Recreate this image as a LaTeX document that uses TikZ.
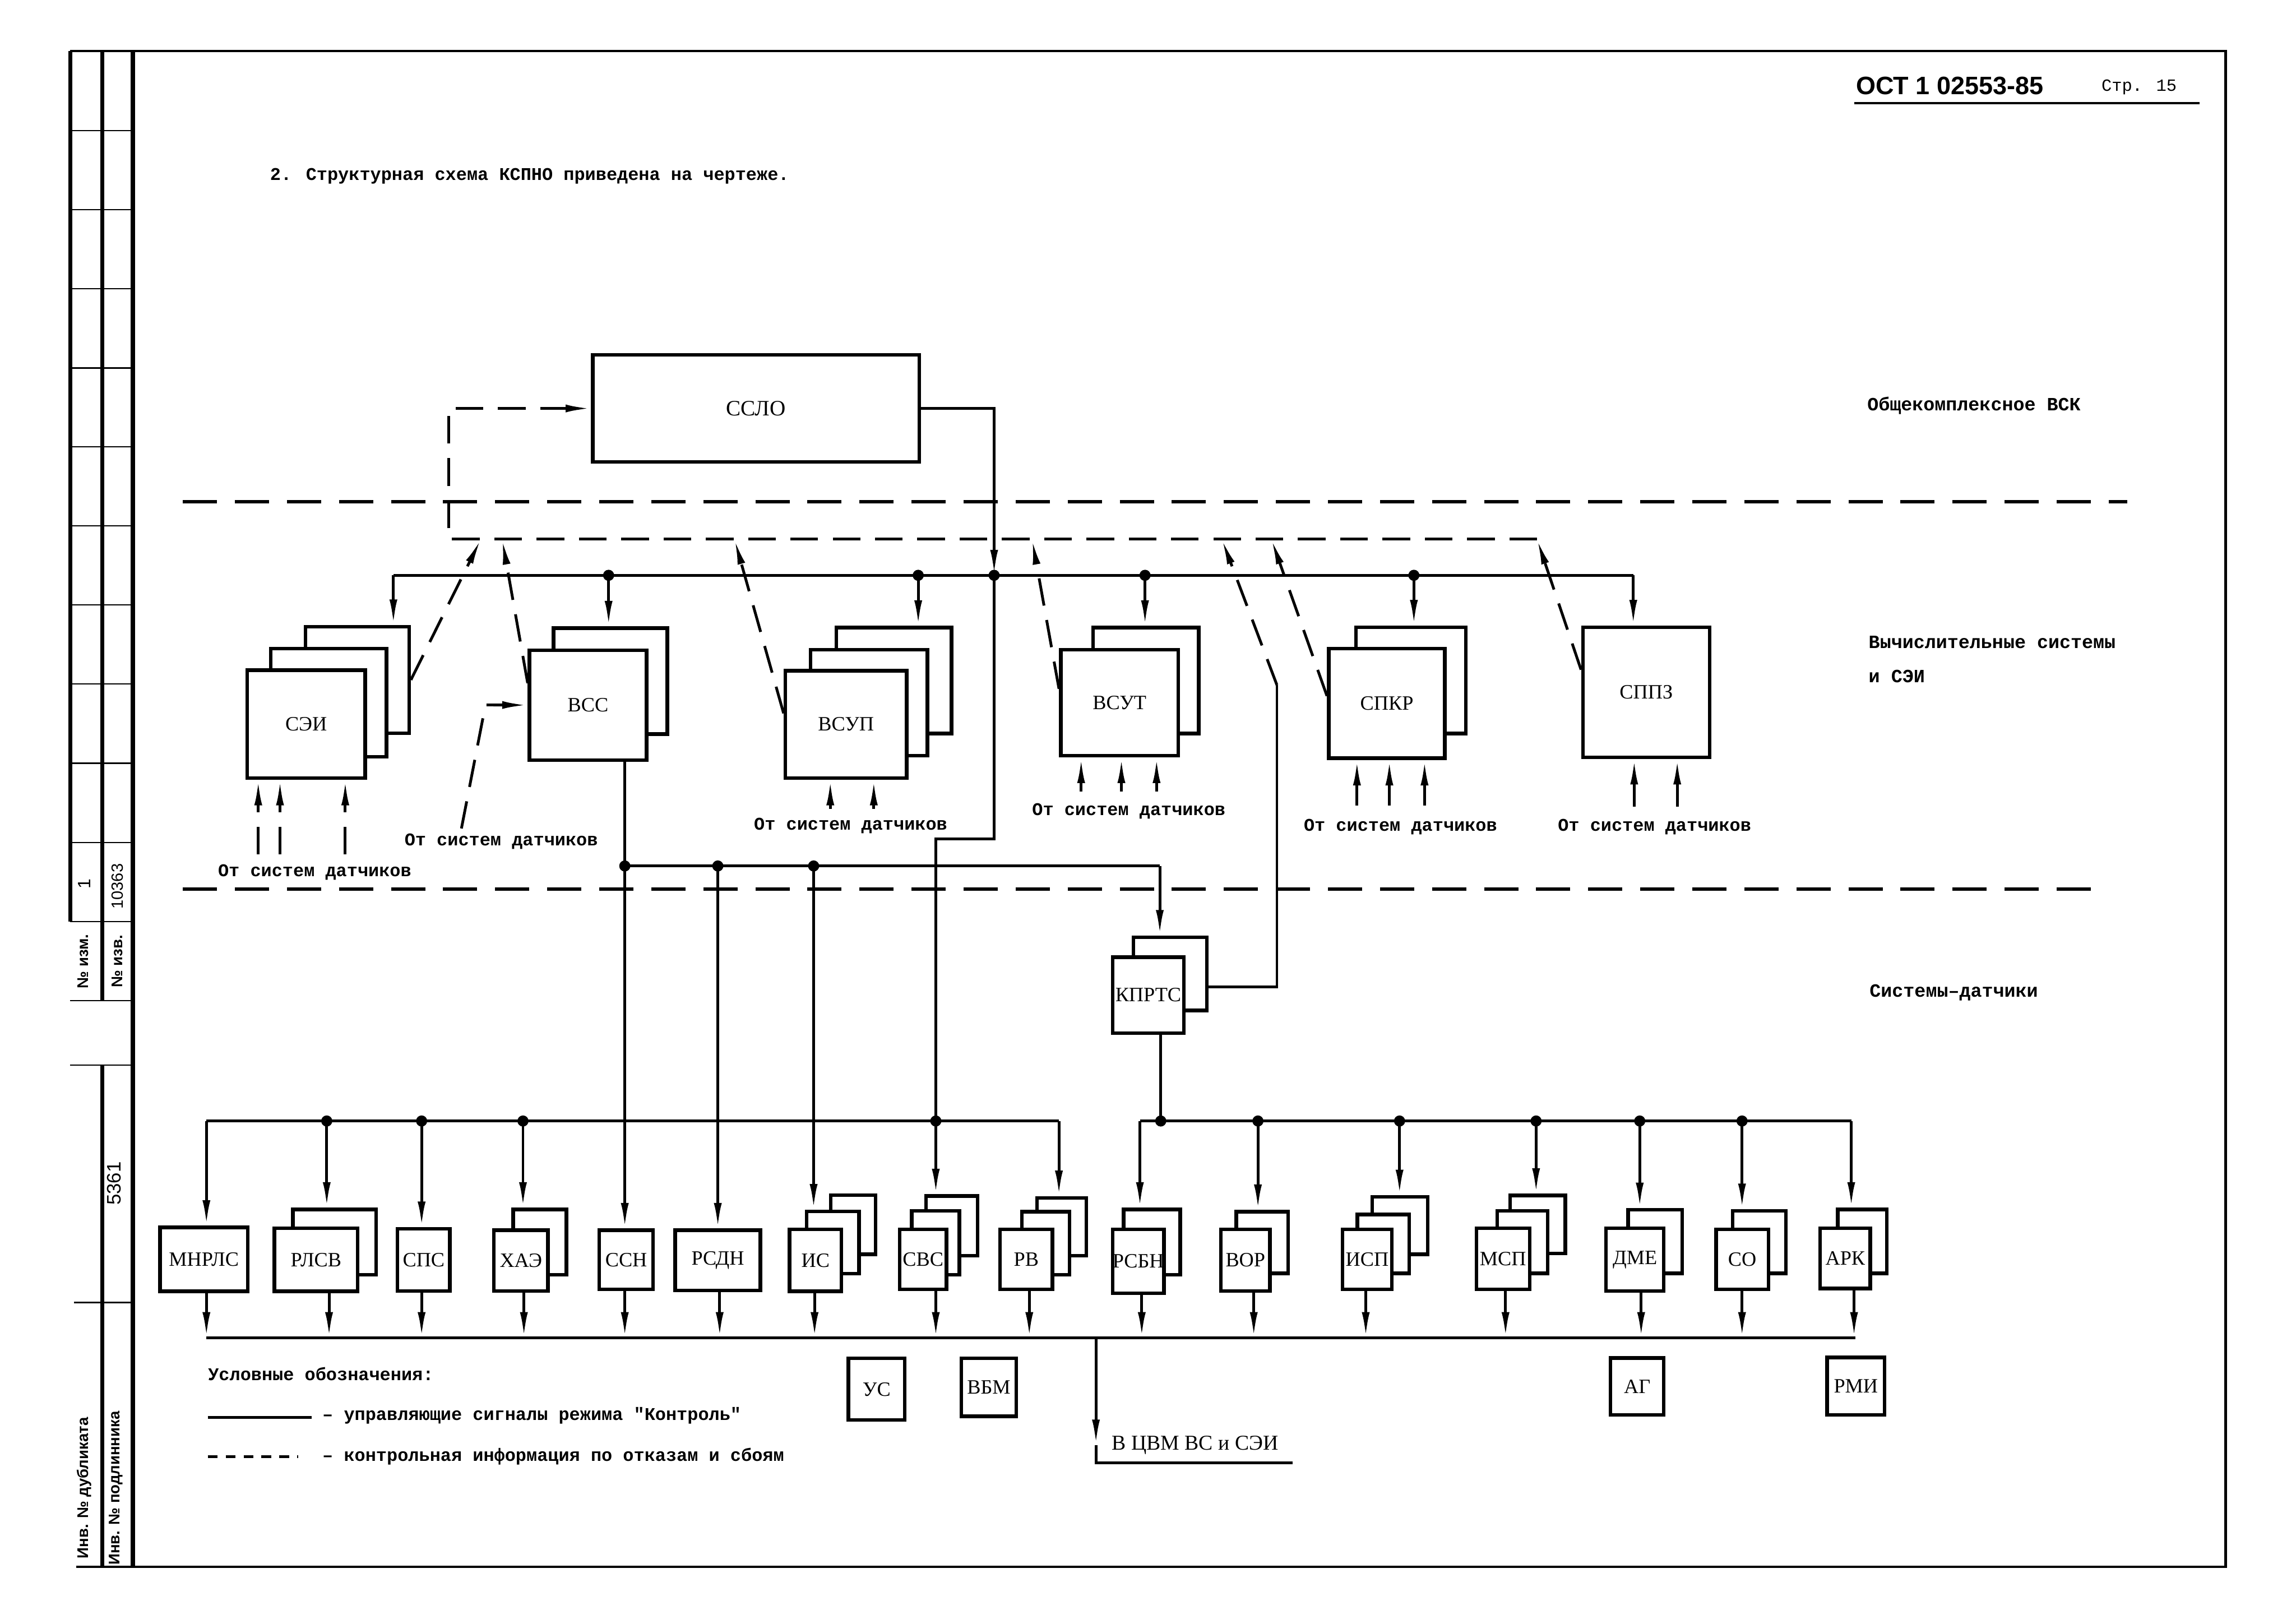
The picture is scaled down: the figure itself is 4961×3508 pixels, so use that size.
\documentclass[tikz,border=0pt]{standalone}
\usepackage{fontspec}
\setmainfont{Liberation Serif}
\newfontfamily\tw{Liberation Mono}
\newfontfamily\hd{Liberation Sans}
\usetikzlibrary{arrows.meta, positioning}

% box given by its corners (in scan pixels)
\newcommand{\sysbox}[6]{%
  \pgfmathsetmacro\sbw{(#4-#2)/10}%
  \pgfmathsetmacro\sbh{(#5-#3)/10}%
  \node[sys, minimum width=\sbw mm, minimum height=\sbh mm] (#1) at ({(#2+#4)/2},{(#3+#5)/2}) {#6};}

\begin{document}
\begin{tikzpicture}[x=0.1mm, y=-0.1mm,
    sys/.style={rectangle, draw=black, line width=2.2pt, fill=white, inner sep=0pt, font=\fontsize{12.5}{14}\selectfont},
    ctl/.style={line width=1.7pt},
    info/.style={line width=1.7pt, dash pattern=on 17pt off 9pt},
    divider/.style={line width=1.8pt, dash pattern=on 21pt off 11pt},
    arrow/.style={-{Latex[length=5.5mm,width=1.7mm]}},
    lbl/.style={inner sep=0pt, font=\tw\bfseries\fontsize{11}{13}\selectfont},
    zone/.style={inner sep=0pt, anchor=west, align=left, font=\tw\bfseries\fontsize{11.5}{21}\selectfont},
    strip/.style={inner sep=0pt, rotate=90, font=\hd\bfseries\fontsize{9.5}{11}\selectfont}
  ]
  \useasboundingbox (0,0) rectangle (4961,3508);

  % Sheet frame and side strip
  \draw[line width=1.5pt] (152,110) -- (4809,110) -- (4809,3385) -- (165,3385);
  \draw[line width=2.6pt] (152,110) -- (152,1991);
  \draw[line width=2.6pt] (221,110) -- (221,2162);
  \draw[line width=2.6pt] (221,2301) -- (221,3385);
  \draw[line width=2.6pt] (287,110) -- (287,3385);
  \foreach \y in {282,453,624,795,965,1136,1307,1478,1649,1820,1991,2162,2301}
    \draw[line width=0.8pt] (152,\y) -- (287,\y);
  \draw[line width=0.8pt] (160,2814) -- (287,2814);
  \node[strip, font=\hd\fontsize{11}{12}\selectfont] (st-izm) at (182,1910) {1};
  \node[strip, font=\hd\fontsize{10}{12}\selectfont] (st-izv) at (254,1915) {10363};
  \node[strip] (st-1) at (180,2077) {№ изм.};
  \node[strip] (st-2) at (253,2077) {№ изв.};
  \node[strip, font=\hd\fontsize{12}{14}\selectfont] (st-3) at (246,2557) {5361};
  \node[strip] (st-4) at (182,3215) {Инв. № дубликата};
  \node[strip] (st-5) at (250,3215) {Инв. № подлинника};

  % Header
  \node[inner sep=0pt, font=\hd\bfseries\fontsize{15.5}{18}\selectfont] (ost) at (4213,185) {ОСТ 1 02553-85};
  \node[inner sep=0pt, font=\tw\fontsize{10.5}{12}\selectfont] (page) at (4622,188) {Стр. 15};
  \coordinate (hl-w) at (4006,223);
  \coordinate (hl-e) at (4752,223);
  \draw[line width=1.6pt] (hl-w) -- (hl-e);
  \node[lbl, anchor=west] (title) at (583,380) {2. Структурная схема КСПНО приведена на чертеже.};

  % Levels
  \node[zone] (z-top) at (4034,876) {Общекомплексное ВСК};
  \node[zone] (z-mid) at (4037,1424) {Вычислительные системы\\и СЭИ};
  \node[zone] (z-bot) at (4039,2145) {Системы–датчики};
  \coordinate (sep1-w) at (395,1084);
  \coordinate (sep1-e) at (4596,1084);
  \coordinate (sep2-w) at (395,1921);
  \coordinate (sep2-e) at (4545,1921);
  \draw[divider] (sep1-w) -- (sep1-e);
  \draw[divider] (sep2-w) -- (sep2-e);

  % Nodes: top
  \sysbox{sslo}{1281}{767}{1986}{998}{\fontsize{13.5}{15}\selectfont ССЛО}

  % Nodes: computing systems
  \sysbox{sei-t}{660}{1354}{884}{1584}{}
  \sysbox{sei-m}{585}{1401}{835}{1635}{}
  \sysbox{sei}{534}{1448}{789}{1681}{СЭИ}
  \sysbox{vss-t}{1196}{1357}{1442}{1586}{}
  \sysbox{vss}{1144}{1405}{1397}{1642}{ВСС}
  \sysbox{vsup-t}{1807}{1356}{2056}{1585}{}
  \sysbox{vsup-m}{1751}{1404}{2004}{1633}{}
  \sysbox{vsup}{1697}{1449}{1959}{1681}{ВСУП}
  \sysbox{vsut-t}{2362}{1356}{2590}{1585}{}
  \sysbox{vsut}{2292}{1404}{2546}{1633}{ВСУТ}
  \sysbox{spkr-t}{2930}{1355}{3167}{1585}{}
  \sysbox{spkr}{2871}{1401}{3122}{1638}{СПКР}
  \sysbox{sppz}{3420}{1355}{3694}{1636}{СППЗ}

  % Nodes: sensor systems
  \sysbox{kprts-t}{2449}{2025}{2608}{2183}{}
  \sysbox{kprts}{2404}{2068}{2558}{2232}{КПРТС}
  \sysbox{mnrls}{346}{2652}{535}{2790}{МНРЛС}
  \sysbox{rlsv-t}{633}{2613}{813}{2754}{}
  \sysbox{rlsv}{593}{2654}{773}{2790}{РЛСВ}
  \sysbox{sps}{859}{2655}{972}{2789}{СПС}
  \sysbox{hae-t}{1109}{2613}{1224}{2754}{}
  \sysbox{hae}{1067}{2658}{1184}{2789}{ХАЭ}
  \sysbox{ssn}{1295}{2658}{1411}{2786}{ССН}
  \sysbox{rsdn}{1459}{2658}{1643}{2788}{РСДН}
  \sysbox{is-t}{1795}{2582}{1892}{2710}{}
  \sysbox{is-m}{1743}{2617}{1856}{2752}{}
  \sysbox{is}{1706}{2656}{1818}{2790}{ИС}
  \sysbox{svs-t}{2001}{2584}{2112}{2713}{}
  \sysbox{svs-m}{1970}{2616}{2073}{2754}{}
  \sysbox{svs}{1944}{2656}{2045}{2786}{СВС}
  \sysbox{rv-t}{2241}{2588}{2347}{2713}{}
  \sysbox{rv-m}{2208}{2618}{2311}{2754}{}
  \sysbox{rv}{2161}{2656}{2274}{2786}{РВ}
  \sysbox{rsbn-t}{2428}{2613}{2550}{2754}{}
  \sysbox{rsbn}{2407}{2656}{2512}{2794}{РСБН}
  \sysbox{vor-t}{2671}{2618}{2783}{2751}{}
  \sysbox{vor}{2638}{2656}{2744}{2789}{ВОР}
  \sysbox{isp-t}{2965}{2586}{3085}{2710}{}
  \sysbox{isp-m}{2933}{2624}{3045}{2751}{}
  \sysbox{isp}{2901}{2656}{3007}{2786}{ИСП}
  \sysbox{msp-t}{3263}{2583}{3382}{2708}{}
  \sysbox{msp-m}{3235}{2616}{3344}{2751}{}
  \sysbox{msp}{3190}{2654}{3305}{2786}{МСП}
  \sysbox{dme-t}{3518}{2614}{3635}{2751}{}
  \sysbox{dme}{3470}{2654}{3595}{2789}{ДМЕ}
  \sysbox{so-t}{3744}{2616}{3859}{2751}{}
  \sysbox{so}{3708}{2656}{3821}{2786}{СО}
  \sysbox{ark-t}{3971}{2613}{4077}{2751}{}
  \sysbox{ark}{3933}{2654}{4041}{2784}{АРК}
  \sysbox{us}{1833}{2935}{1955}{3068}{УС}
  \sysbox{vbm}{2077}{2935}{2196}{3060}{ВБМ}
  \sysbox{ag}{3480}{2934}{3595}{3057}{АГ}
  \sysbox{rmi}{3948}{2933}{4072}{3057}{РМИ}

  % Control bus from SSLO
  \coordinate (b1-w) at (850,1243);
  \coordinate (b1-e) at (3529,1243);
  \coordinate (j1) at (2148,1243);
  \coordinate (c-sslo) at (2022,1812);
  \draw[ctl] (b1-w) -- (b1-e);
  \draw[ctl, arrow] (sslo.east) -| (j1);
  \foreach \tg/\x in {sei-t/850, vss-t/1315, vsup-t/1984, vsut-t/2474, spkr-t/3055, sppz/3529} {
    \coordinate (b1-\tg) at (\x,1243);
    \draw[ctl, arrow] (b1-\tg) -- (b1-\tg |- \tg.north);
  }
  \foreach \tg in {vss-t, vsup-t, vsut-t, spkr-t}
    \fill (b1-\tg) circle[radius=1.2mm];
  \fill (j1) circle[radius=1.2mm];

  % Bus from VSS
  \coordinate (b2-ssn) at (1350,1871);
  \coordinate (b2-rsdn) at (1551,1871);
  \coordinate (b2-is) at (1758,1871);
  \coordinate (b2-e) at (2506,1871);
  \draw[ctl] (vss.south -| b2-ssn) -- (b2-ssn);
  \draw[ctl] (b2-ssn) -- (b2-e);
  \draw[ctl, arrow] (b2-e) -- (b2-e |- kprts-t.north);
  \draw[ctl, arrow] (b2-ssn) -- (b2-ssn |- ssn.north);
  \draw[ctl, arrow] (b2-rsdn) -- (b2-rsdn |- rsdn.north);
  \draw[ctl, arrow] (b2-is) -- (b2-is |- is-m.north);
  \foreach \c in {b2-ssn, b2-rsdn, b2-is}
    \fill (\c) circle[radius=1.2mm];

  % Sensor buses
  \foreach \tg/\x in {mnrls/446, rlsv-t/706, sps/911, hae-t/1130, svs-t/2022, rv-t/2288,
                      rsbn-t/2463, vor-t/2718, isp-t/3024, msp-t/3319, dme-t/3543, so-t/3764, ark-t/4000} {
    \coordinate (i-\tg) at (\x,2422);
    \draw[ctl, arrow] (i-\tg) -- (i-\tg |- \tg.north);
  }
  \draw[ctl] (i-mnrls) -- (i-rv-t);
  \draw[ctl] (i-rsbn-t) -- (i-ark-t);
  \foreach \tg in {rlsv-t, sps, hae-t, svs-t, vor-t, isp-t, msp-t, dme-t, so-t}
    \fill (i-\tg) circle[radius=1.2mm];
  \draw[ctl] (j1) |- (c-sslo) -- (i-svs-t);
  \coordinate (i-kprts) at (2508,2422);
  \draw[ctl] (kprts.south -| i-kprts) -- (i-kprts);
  \fill (i-kprts) circle[radius=1.2mm];

  % Outputs
  \coordinate (bb-w) at (446,2890);
  \coordinate (bb-e) at (4009,2890);
  \draw[ctl] (bb-w) -- (bb-e);
  \foreach \n/\x in {mnrls/446, rlsv/711, sps/911, hae/1132, ssn/1350, rsdn/1555, is/1760, svs/2022,
                     rv/2224, rsbn/2467, vor/2709, isp/2951, msp/3253, dme/3546, so/3764, ark/4006} {
    \coordinate (o-\n) at (\x,2890);
    \draw[ctl, arrow] (o-\n |- \n.south) -- (o-\n);
  }
  \coordinate (o-cvm) at (2368,2890);
  \coordinate (cvm-e) at (2793,3160);
  \node[inner sep=0pt, anchor=west, font=\fontsize{13}{15}\selectfont] (cvm) at (2402,3122) {В ЦВМ ВС и СЭИ};
  \draw[ctl, arrow] (o-cvm) -- (o-cvm |- cvm.west);
  \draw[ctl] (o-cvm |- cvm.west) |- (cvm-e);

  % Failure information to SSLO
  \coordinate (d-w) at (969,1165);
  \coordinate (d-sei) at (1039,1165);
  \coordinate (d-vss) at (1085,1165);
  \coordinate (d-vsup) at (1587,1165);
  \coordinate (d-vsut) at (2230,1165);
  \coordinate (d-kprts) at (2640,1165);
  \coordinate (d-spkr) at (2747,1165);
  \coordinate (d-sppz) at (3321,1165);
  \coordinate (k-up) at (2759,1480);
  \draw[info, arrow] (d-sppz) -- (d-w) |- (sslo.west);
  \draw[info, arrow] (sei-t.east) -- (d-sei);
  \draw[info, arrow] (vss.160) -- (d-vss);
  \draw[info, arrow] (vsup.170) -- (d-vsup);
  \draw[info, arrow] (vsut.167) -- (d-vsut);
  \draw[ctl] ([yshift=-2.8mm]kprts-t.east) -| (k-up);
  \draw[info, arrow] (k-up) -- (d-kprts);
  \draw[info, arrow] (spkr.173) -- (d-spkr);
  \draw[info, arrow] (sppz.161) -- (d-sppz);

  % Inputs from sensors
  \foreach \x [count=\i] in {558,605,746} {
    \coordinate (sei-in\i) at (\x,1846);
    \draw[info, arrow] (sei-in\i) -- (sei-in\i |- sei.south);
  }
  \coordinate (vss-in1) at (997,1790);
  \coordinate (vss-in2) at (1049,1523);
  \draw[info, arrow] (vss-in1) -- (vss-in2) -- (vss.west);
  \foreach \x [count=\i] in {1794,1888} {
    \coordinate (vsup-in\i) at (\x,1748);
    \draw[ctl, arrow] (vsup-in\i) -- (vsup-in\i |- vsup.south);
  }
  \foreach \x [count=\i] in {2336,2423,2499} {
    \coordinate (vsut-in\i) at (\x,1710);
    \draw[ctl, arrow] (vsut-in\i) -- (vsut-in\i |- vsut.south);
  }
  \coordinate (spkr-in1) at (2932,1740);
  \draw[ctl, arrow] (spkr-in1) -- (spkr-in1 |- spkr.south);
  \foreach \x [count=\i from 2] in {3002,3078} {
    \coordinate (spkr-in\i) at (\x,1740);
    \draw[info, arrow] (spkr-in\i) -- (spkr-in\i |- spkr.south);
  }
  \foreach \x [count=\i] in {3531,3624} {
    \coordinate (sppz-in\i) at (\x,1743);
    \draw[info, arrow] (sppz-in\i) -- (sppz-in\i |- sppz.south);
  }
  \node[lbl] (src-sei) at (680,1885) {От систем датчиков};
  \node[lbl] (src-vss) at (1083,1818) {От систем датчиков};
  \node[lbl] (src-vsup) at (1838,1784) {От систем датчиков};
  \node[lbl] (src-vsut) at (2439,1753) {От систем датчиков};
  \node[lbl] (src-spkr) at (3026,1786) {От систем датчиков};
  \node[lbl] (src-sppz) at (3575,1786) {От систем датчиков};

  % Legend
  \node[lbl, anchor=west] (leg) at (449,2968) {Условные обозначения:};
  \coordinate (leg-a) at (449,3063);
  \coordinate (leg-b) at (673,3063);
  \coordinate (leg-c) at (449,3147);
  \coordinate (leg-d) at (644,3147);
  \draw[ctl] (leg-a) -- (leg-b);
  \draw[line width=1.7pt, dash pattern=on 6pt off 5pt] (leg-c) -- (leg-d);
  \node[lbl, anchor=west] (leg-ctl) at (696,3058) {– управляющие сигналы режима "Контроль"};
  \node[lbl, anchor=west] (leg-info) at (696,3147) {– контрольная информация по отказам и сбоям};
\end{tikzpicture}
\end{document}
